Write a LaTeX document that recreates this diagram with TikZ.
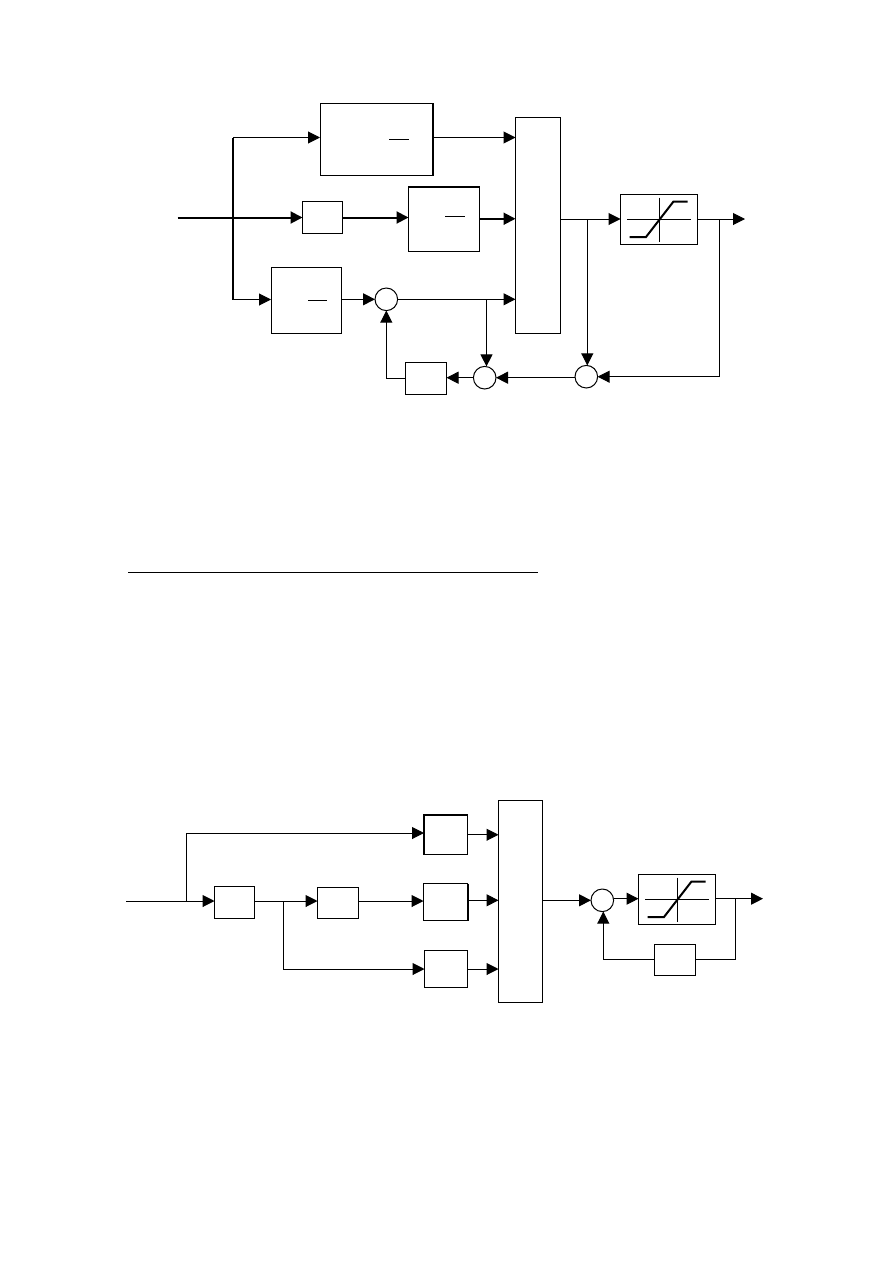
\documentclass[tikz,border=0pt]{standalone}
\usetikzlibrary{arrows.meta}
\tikzset{
  blockbox/.style 2 args={draw, line width=0.75pt, inner sep=0pt, outer sep=0pt,
    minimum width=#1*0.75pt, minimum height=#2*0.75pt},
  sumnode/.style={draw, circle, line width=0.75pt, inner sep=0pt, outer sep=0pt,
    minimum size=22.6*0.75pt},
  flow/.style={line width=0.75pt, -{Triangle[length=9pt,width=9pt]}},
  flowthick/.style={line width=1.5pt, -{Triangle[length=9pt,width=9pt]}},
  wire/.style={line width=0.75pt},
  wirethick/.style={line width=1.5pt},
  satcurve/.pic={
    \draw[line width=0.6pt] (-32,0) -- (32,0);
    \draw[line width=0.6pt] (0,-22) -- (0,22);
    \draw[line width=1.5pt] (-29.5,17.5) -- (-13,17.5) -- (14.5,-18) -- (28.5,-18);
  }
}
\begin{document}
\begin{tikzpicture}[x=0.75pt, y=-0.75pt]
  \useasboundingbox (0,0) rectangle (893,1263);

  % upper loop
  \coordinate (inA) at (177.5,217.5);
  \coordinate (trunkA) at (233,217.5);
  \coordinate (trunkTop) at (233,137.5);
  \coordinate (trunkBot) at (233,299.5);
  \node[blockbox={113}{72}] (boxP) at (376.5,139) {};
  \node[blockbox={40}{32}] (gainA) at (322.5,217) {};
  \node[blockbox={71}{64.5}] (boxI) at (444,218.75) {};
  \node[blockbox={70.5}{66}] (boxD) at (306.25,300.5) {};
  \node[blockbox={45}{215.5}] (mixA) at (538,225.25) {};
  \node[blockbox={77}{50}] (satA) at (659,219.5) {};
  \node[sumnode] (sumD) at (386.3,299.3) {};
  \node[sumnode] (sumB) at (484.7,377.7) {};
  \node[sumnode] (sumC) at (586.3,376.7) {};
  \node[blockbox={41}{32.5}] (gainB) at (426,378.25) {};
  \pic at (satA.center) {satcurve};
  \coordinate (outA) at (745,219);
  \coordinate (tapD) at (486.5,299.3);
  \coordinate (tapM) at (587.3,219);
  \coordinate (tapS) at (719.5,219);

  \draw[wirethick] (boxP.north east) -- (boxP.south east);
  \draw[wirethick] (boxI.north west) -- (boxI.north east);
  \draw[line width=0.75pt] (389,139) -- (409,139);
  \draw[line width=0.75pt] (445,216) -- (465,216);
  \draw[line width=0.75pt] (308,300) -- (327,300);

  \draw[wirethick] (trunkTop) -- (trunkBot);
  \draw[flow] (trunkTop) -- (trunkTop -| boxP.west);
  \draw[flow] (trunkBot) -- (trunkBot -| boxD.west);
  \draw[flowthick] (inA) -- (inA -| gainA.west);
  \draw[flowthick] (gainA.east |- inA) -- (inA -| boxI.west);
  \draw[flow] (boxP.east |- trunkTop) -- (trunkTop -| mixA.west);
  \draw[flowthick] (boxI.east) -- (boxI.east -| mixA.west);
  \draw[flow] (boxD.east |- sumD) -- (sumD.west);
  \draw[flow] (sumD.east) -- (sumD.east -| mixA.west);
  \draw[flow] (tapD) -- (tapD |- sumB.north);
  \draw[flow] (mixA.east |- outA) -- (outA -| satA.west);
  \draw[flow] (tapM) -- (tapM |- sumC.north);
  \draw[flow] (satA.east |- outA) -- (outA);
  \draw[flow] (tapS) |- (sumC.east);
  \draw[flow] (sumC.west |- sumB.east) -- (sumB.east);
  \draw[flow] (sumB.west) -- (gainB.east |- sumB);
  \draw[flow] (gainB.west) -| (sumD.south);

  % separator
  \coordinate (ruleL) at (128,572.5);
  \coordinate (ruleR) at (538,572.5);
  \draw[line width=0.6pt] (ruleL) -- (ruleR);

  % lower loop
  \coordinate (inB) at (126,901);
  \coordinate (trunkB) at (186.5,901);
  \coordinate (trunkC) at (186.5,833);
  \coordinate (tapG) at (283.5,901);
  \node[blockbox={43.5}{39.5}] (boxPb) at (445.75,834.75) {};
  \node[blockbox={44}{37}] (boxIb) at (445.5,902) {};
  \node[blockbox={43}{37}] (boxDb) at (446,969) {};
  \node[blockbox={40}{32}] (gainC) at (234.5,902.5) {};
  \node[blockbox={40.5}{31}] (gainD) at (337.75,903) {};
  \node[blockbox={44}{202}] (mixB) at (520.5,901.5) {};
  \node[sumnode] (sumE) at (602.3,900.3) {};
  \node[blockbox={77}{50}] (satB) at (677,899.5) {};
  \node[blockbox={41}{30.5}] (gainE) at (675,959.75) {};
  \pic at (satB.center) {satcurve};
  \coordinate (outB) at (763,898.7);
  \coordinate (tapT) at (735.5,898.7);
  \coordinate (backE) at (603.3,959.75);

  \draw[wirethick] (boxPb.south west) -- (boxPb.north west) -- (boxPb.north east);
  \draw[wirethick] (boxIb.north east) -- (boxIb.south east);

  \draw[flow] (inB) -- (inB -| gainC.west);
  \draw[wire] (trunkB) -- (trunkC);
  \draw[flow] (trunkC) -- (trunkC -| boxPb.west);
  \draw[flow] (gainC.east |- inB) -- (inB -| gainD.west);
  \draw[flow] (tapG) |- (boxDb.west);
  \draw[flow] (gainD.east |- inB) -- (inB -| boxIb.west);
  \draw[flow] (boxPb.east) -- (boxPb.east -| mixB.west);
  \draw[flow] (boxIb.east |- sumE) -- (sumE -| mixB.west);
  \draw[flow] (boxDb.east) -- (boxDb.east -| mixB.west);
  \draw[flow] (mixB.east |- sumE) -- (sumE.west);
  \draw[flow] (sumE.east |- outB) -- (outB -| satB.west);
  \draw[flow] (satB.east |- outB) -- (outB);
  \draw[wire] (tapT) |- (gainE.east);
  \draw[wire] (gainE.west) -- (backE);
  \draw[flow] (backE) -- (backE |- sumE.south);
\end{tikzpicture}
\end{document}
